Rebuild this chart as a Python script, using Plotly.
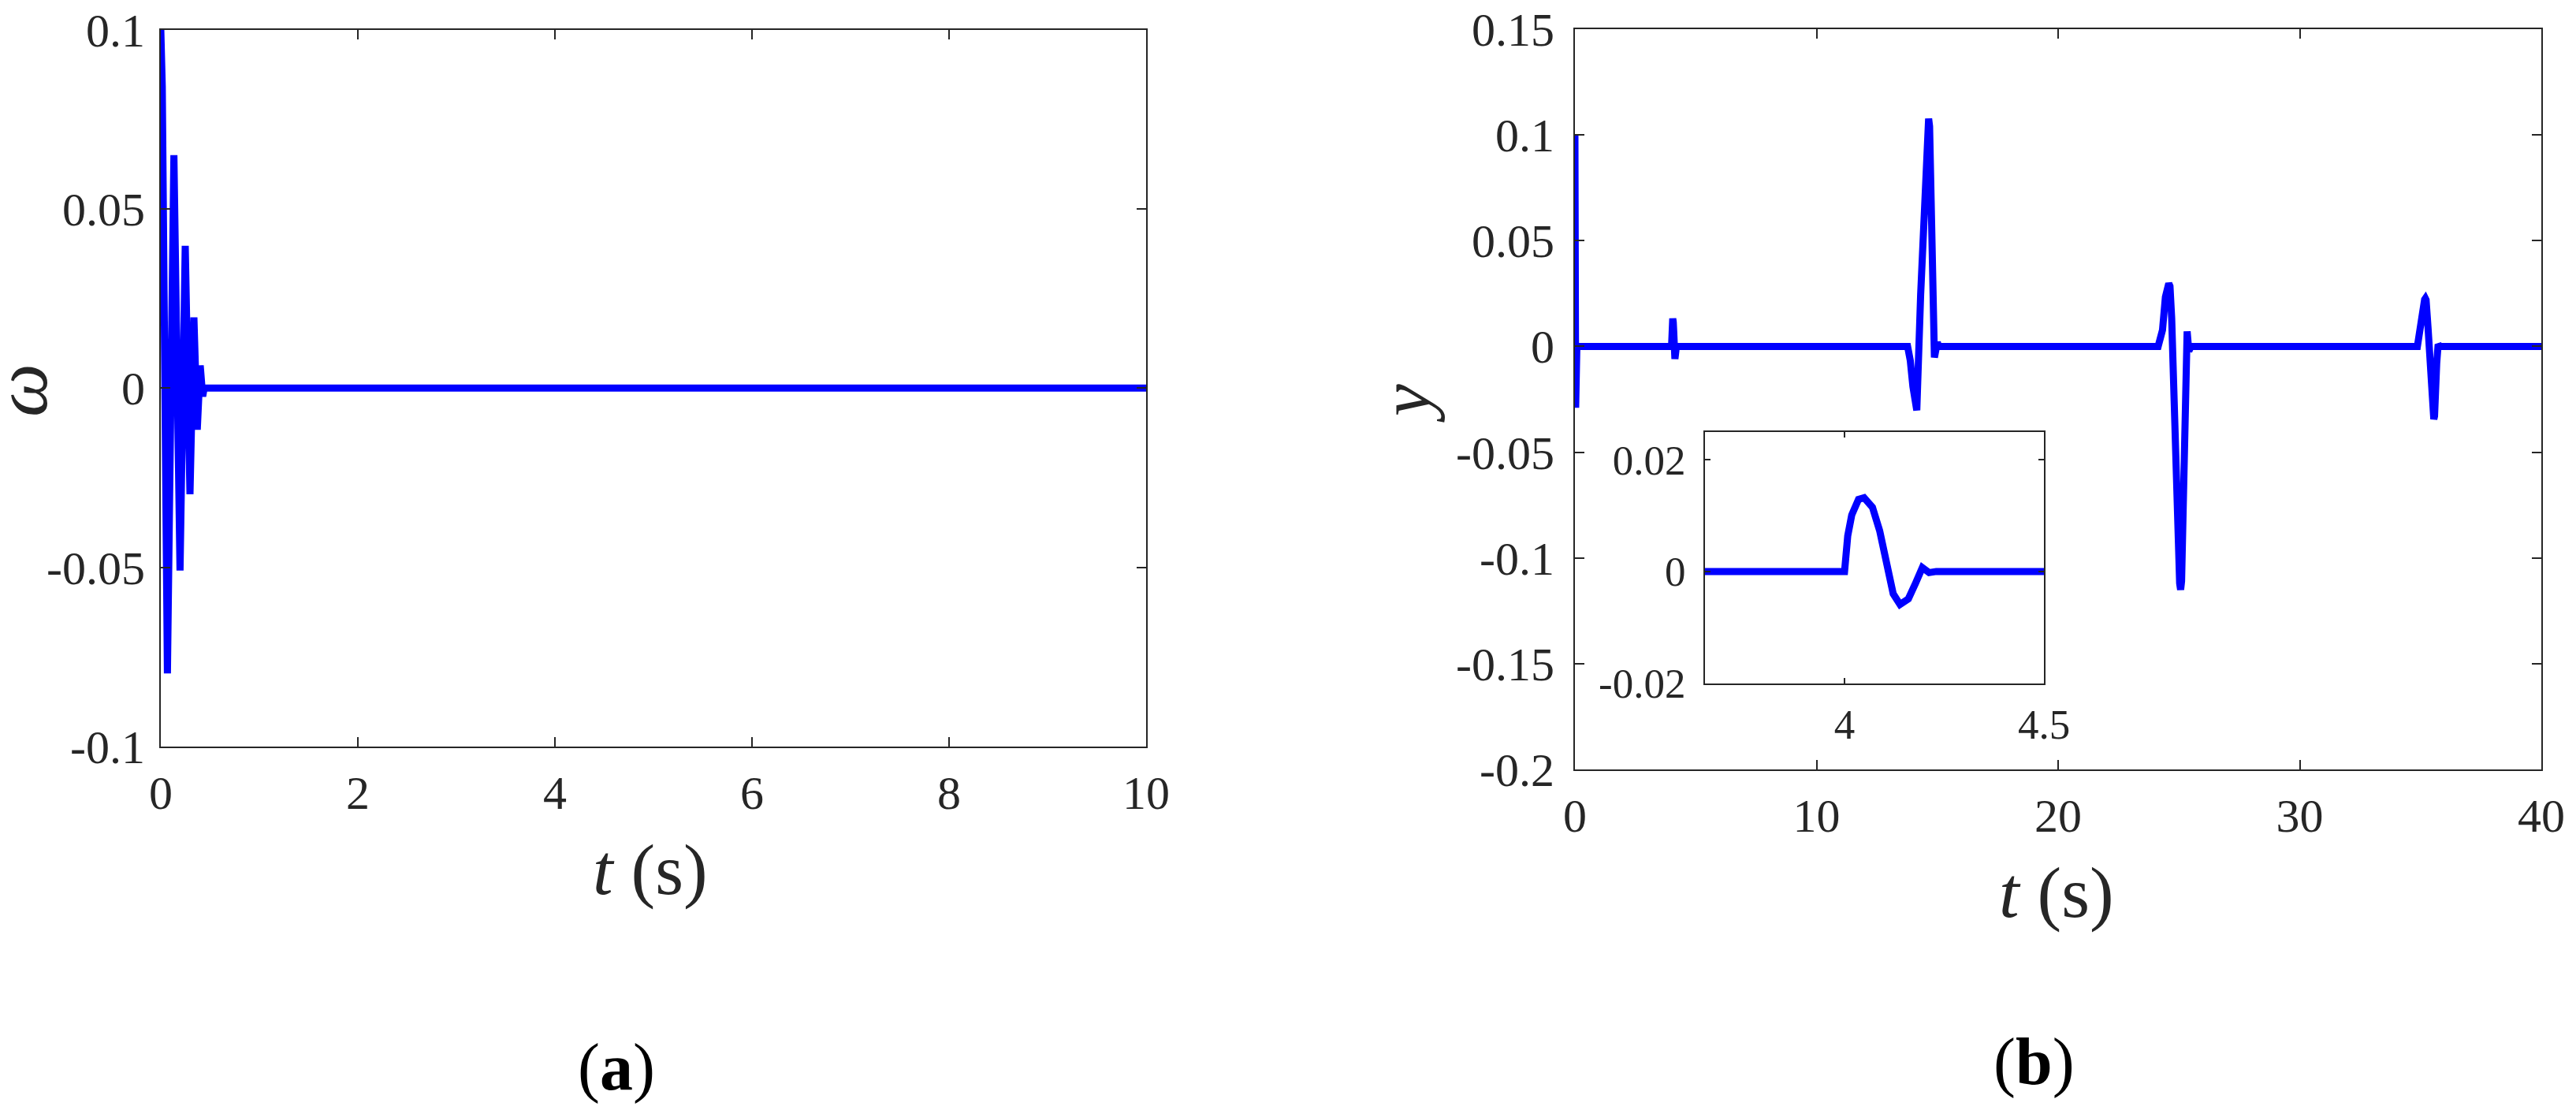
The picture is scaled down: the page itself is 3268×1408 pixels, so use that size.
import plotly.graph_objects as go

# ---------------- data ----------------
# (a) omega vs t
t_a = [0.0, 0.015, 0.067, 0.133, 0.195, 0.248, 0.296, 0.336, 0.370, 0.400, 0.425, 0.440, 10.0]
w_a = [0.100, 0.084, -0.0796, 0.065, -0.0509, 0.0397, -0.0296, 0.0197, -0.0116, 0.0063, -0.0023, 0.0, 0.0]

# (b) y vs t
t_b = [0.0, 0.03, 0.08,
       4.000, 4.008, 4.018, 4.035, 4.049, 4.070, 4.088, 4.105, 4.122, 4.139, 4.160, 4.178, 4.195, 4.212, 4.230,
       13.77, 13.88, 13.99, 14.15, 14.31, 14.52, 14.60, 14.64, 14.68, 14.77, 14.88, 15.00, 15.05,
       24.14, 24.32, 24.44, 24.53, 24.58, 24.63, 24.70, 25.03, 25.07, 25.11, 25.20, 25.34, 25.41, 25.50,
       34.87, 35.02, 35.17, 35.20, 35.23, 35.31, 35.52, 35.55, 35.58, 35.67, 35.73, 35.80,
       40.0]
y_b = [0.100, -0.029, 0.0,
       0.0, 0.0064, 0.0101, 0.0129, 0.0132, 0.0115, 0.0073, 0.0012, -0.0040, -0.0059, -0.0049, -0.0021, 0.0007, -0.0002, 0.0,
       0.0, -0.0066, -0.019, -0.0302, 0.0245, 0.0866, 0.1050, 0.1077, 0.1040, 0.0493, -0.0052, 0.002, 0.0,
       0.0, 0.0077, 0.0234, 0.0290, 0.0298, 0.0285, 0.0134, -0.1120, -0.1150, -0.1110, -0.0700, 0.0071, -0.0022, 0.0,
       0.0, 0.0134, 0.0222, 0.0227, 0.0220, 0.0091, -0.0335, -0.0344, -0.0330, -0.0080, 0.0010, 0.0,
       0.0]

xt_a = [0, 2, 4, 6, 8, 10]
yt_a = [-0.1, -0.05, 0, 0.05, 0.1]
yt_a_lbl = ["-0.1", "-0.05", "0", "0.05", "0.1"]
xt_b = [0, 10, 20, 30, 40]
yt_b = [-0.2, -0.15, -0.1, -0.05, 0, 0.05, 0.1, 0.15]
yt_b_lbl = ["-0.2", "-0.15", "-0.1", "-0.05", "0", "0.05", "0.1", "0.15"]
xt_c = [4, 4.5]
xt_c_lbl = ["4", "4.5"]
yt_c = [-0.02, 0, 0.02]
yt_c_lbl = ["-0.02", "0", "0.02"]

# ---------------- figure ----------------
W, H = 3268, 1408
FONT = "Liberation Serif, Times New Roman, Times, serif"
AX = "#262626"
BLUE = "#0000FF"
LW = 9


def px(x):
    return x / W


def py(y):
    return 1 - y / H


fig = go.Figure()
fig.add_trace(go.Scatter(x=t_a, y=w_a, mode="lines", line=dict(color=BLUE, width=LW),
                         xaxis="x", yaxis="y", showlegend=False))
fig.add_trace(go.Scatter(x=t_b, y=y_b, mode="lines", line=dict(color=BLUE, width=LW),
                         xaxis="x2", yaxis="y2", showlegend=False))
fig.add_trace(go.Scatter(x=t_b, y=y_b, mode="lines", line=dict(color=BLUE, width=LW),
                         xaxis="x3", yaxis="y3", showlegend=False))


def axstyle(size=60, ticklen=12, standoff=20):
    return dict(showline=True, linecolor=AX, linewidth=2, mirror="ticks",
                ticks="inside", ticklen=ticklen, tickwidth=2, tickcolor=AX,
                showgrid=False, zeroline=False, automargin=False,
                ticklabeloverflow="allow",
                tickfont=dict(family=FONT, size=size, color=AX),
                ticklabelstandoff=standoff)


fig.update_layout(
    width=W, height=H, margin=dict(l=0, r=0, t=0, b=0, pad=0, autoexpand=False),
    showlegend=False,
    paper_bgcolor="white", plot_bgcolor="rgba(0,0,0,0)",
    xaxis=dict(domain=[px(204), px(1454)], range=[0, 10], tickvals=xt_a, anchor="y",
               **axstyle(standoff=5)),
    yaxis=dict(domain=[py(947), py(37.6)], range=[-0.1, 0.1], tickvals=yt_a, ticktext=yt_a_lbl,
               anchor="x", **axstyle(standoff=6)),
    xaxis2=dict(domain=[px(1998), px(3224)], range=[0, 40], tickvals=xt_b, anchor="y2",
                **axstyle(standoff=5)),
    yaxis2=dict(domain=[py(976), py(37)], range=[-0.2, 0.15], tickvals=yt_b, ticktext=yt_b_lbl,
                anchor="x2", **axstyle(standoff=12)),
    xaxis3=dict(domain=[px(2163), px(2593)], range=[3.65, 4.5], tickvals=xt_c, ticktext=xt_c_lbl,
                anchor="y3", **axstyle(size=53, ticklen=7, standoff=5)),
    yaxis3=dict(domain=[py(866.7), py(547.7)], range=[-0.02, 0.025], tickvals=yt_c, ticktext=yt_c_lbl,
                anchor="x3", **axstyle(size=53, ticklen=7, standoff=12)),
)


def ann(text, x, y, size, angle=0, color=AX):
    fig.add_annotation(text=text, x=px(x), y=py(y), xref="paper", yref="paper",
                       xanchor="center", yanchor="middle", showarrow=False,
                       textangle=angle, font=dict(family=FONT, size=size, color=color))


ann("<i>t</i> (s)", 825, 1103, 92)
ann("<i>t</i> (s)", 2609, 1132, 92)
ann("<i>ω</i>", 26, 495, 96, -90)
ann("<i>y</i>", 1783, 512, 92, -90)
ann("(<b>a</b>)", 782, 1354, 84, 0, "black")
ann("(<b>b</b>)", 2580, 1347, 84, 0, "black")

# remove the browser's default 8px page margin so the figure sits at (0, 0); hide the modebar
fig.write_html("out.html", config={"displayModeBar": False},
               post_script="document.body.style.margin='0px';")
